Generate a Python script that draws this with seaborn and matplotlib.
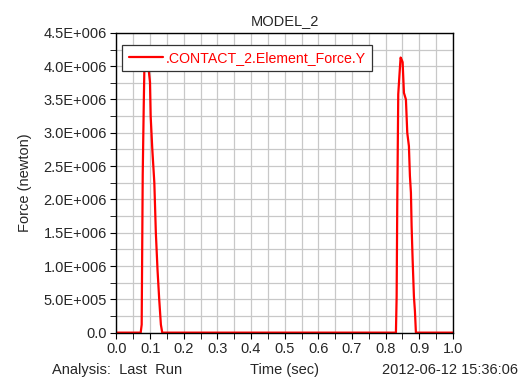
import numpy as np
import pandas as pd
import matplotlib
matplotlib.use("Agg")
import matplotlib.pyplot as plt
from matplotlib.ticker import MultipleLocator, FuncFormatter
import seaborn as sns

# values
time_sec = [0.0, 0.072, 0.0749, 0.078, 0.081, 0.083, 0.086, 0.090, 0.0946, 0.0996,
            0.1016, 0.1065, 0.1125, 0.117, 0.122, 0.127, 0.132, 0.136,
            0.8306, 0.8327, 0.8345, 0.8375, 0.8415, 0.8445, 0.8475, 0.8505,
            0.8544, 0.8603, 0.8643, 0.8692, 0.8722, 0.8752, 0.8772, 0.8802,
            0.8841, 0.8871, 0.890, 1.0]
force_newton = [0.0, 0.0, 0.12e6, 2.37e6, 3.40e6, 4.0e6, 4.1e6, 4.05e6, 4.0e6, 3.76e6,
                3.25e6, 2.75e6, 2.25e6, 1.5e6, 0.94e6, 0.5e6, 0.12e6, 0.0,
                0.0, 0.54e6, 1.9e6, 3.58e6, 3.9e6, 4.13e6, 4.1e6, 4.06e6,
                3.6e6, 3.5e6, 3.0e6, 2.8e6, 2.35e6, 2.1e6, 1.6e6, 1.1e6,
                0.54e6, 0.32e6, 0.0, 0.0]
series_name = ".CONTACT_2.Element_Force.Y"

df = pd.DataFrame({"Time": time_sec, "Force": force_newton, "name": series_name})

sns.set_style("white")
plt.rcParams["font.family"] = ["Liberation Sans", "DejaVu Sans"]

fig = plt.figure(figsize=(5.2, 3.78), dpi=100)
ax = fig.add_axes([0.224, 0.120, 0.647, 0.793])

sns.lineplot(data=df, x="Time", y="Force", hue="name", palette=["#ff0000"],
             linewidth=1.6, ax=ax, estimator=None, sort=False)

ax.set_xlim(0, 1.0)
ax.set_ylim(0, 4.5e6)
ax.xaxis.set_major_locator(MultipleLocator(0.1))
ax.xaxis.set_minor_locator(MultipleLocator(0.05))
ax.yaxis.set_major_locator(MultipleLocator(5e5))
ax.yaxis.set_minor_locator(MultipleLocator(2.5e5))


def ylab(v, pos):
    if abs(v) < 1:
        return "0.0"
    m, e = f"{v:.1E}".split("E")
    return f"{m}E{int(e):+04d}"


ax.yaxis.set_major_formatter(FuncFormatter(ylab))
ax.xaxis.set_major_formatter(FuncFormatter(lambda v, p: f"{v:.1f}"))

ax.grid(True, which="both", color="#c8c8c8", linewidth=0.9)
ax.set_axisbelow(True)
for s in ax.spines.values():
    s.set_color("black")
    s.set_linewidth(1.0)
ax.tick_params(which="both", direction="out", color="black", labelsize=10.5,
               left=True, bottom=True, pad=3)
ax.tick_params(which="major", length=4)
ax.tick_params(which="minor", length=4)

ax.set_title("MODEL_2", fontsize=10.5, pad=6)
ax.set_ylabel("Force (newton)", fontsize=10.5, labelpad=8)
ax.set_xlabel("")

fig.text(0.10, 0.021, "Analysis:  Last  Run", fontsize=10.5, ha="left", va="center")
fig.text(0.548, 0.021, "Time (sec)", fontsize=10.5, ha="center", va="center")
fig.text(0.997, 0.021, "2012-06-12 15:36:06", fontsize=10.5, ha="right", va="center")

leg = ax.legend(loc="upper left", bbox_to_anchor=(0.005, 0.975), fontsize=10.2,
                frameon=True, fancybox=False, framealpha=1.0, handlelength=2.4,
                borderpad=0.45, handletextpad=0.2, borderaxespad=0.3)
leg.get_frame().set_edgecolor("#333333")
leg.get_frame().set_linewidth(0.9)
for t in leg.get_texts():
    t.set_color("#ff0000")

fig.savefig("out.png", dpi=100)
